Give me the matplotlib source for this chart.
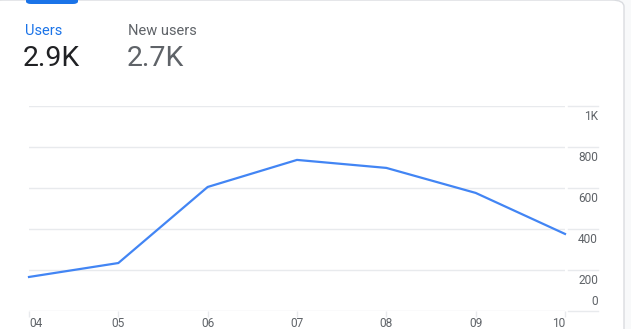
import matplotlib.pyplot as plt
from matplotlib.patches import FancyBboxPatch
from matplotlib.transforms import blended_transform_factory

# chart data
days = ['04', '05', '06', '07', '08', '09', '10']
users = [166, 234, 605, 737, 698, 576, 376]
yTicks = [0, 200, 400, 600, 800, 1000]
yLabels = ['0', '200', '400', '600', '800', '1K']

W, H = 631, 329
fig = plt.figure(figsize=(W / 100, H / 100), dpi=100)
fig.patch.set_facecolor('#f8f9fa')
plt.rcParams['font.family'] = ['Roboto', 'DejaVu Sans']

# card background
card = FancyBboxPatch((-10 / W, -10 / H), 634 / W, 10 / H + 329 / H,
                      boxstyle='round,pad=0,rounding_size=0.02',
                      transform=fig.transFigure, facecolor='white',
                      edgecolor='#dadce0', linewidth=1, zorder=-5)
fig.patches.append(card)
tab = FancyBboxPatch((26 / W, (H - 4) / H), 52 / W, 8 / H,
                     boxstyle='round,pad=0,rounding_size=0.008',
                     transform=fig.transFigure, facecolor='#1a73e8',
                     edgecolor='none', zorder=-4)
fig.patches.append(tab)

# header metrics
fig.text(25 / W, 1 - 31 / H, 'Users', color='#1a73e8', fontsize=10.5, va='center')
fig.text(23 / W, 1 - 59 / H, '2.9K', color='#202124', fontsize=20.5, va='center')
fig.text(128 / W, 1 - 31 / H, 'New users', color='#5f6368', fontsize=10.5, va='center')
fig.text(127 / W, 1 - 59 / H, '2.7K', color='#5f6368', fontsize=20.5, va='center')

left, right, bottom, top = 29, 565, 311, 106
ax = fig.add_axes([left / W, 1 - bottom / H, (right - left) / W, (bottom - top) / H])
ax.set_facecolor('none')
x = list(range(len(days)))
ax.set_xlim(0, len(days) - 1)
ax.set_ylim(0, 1000)

gridColor = '#e8eaed'
tickFs = 8.6
trans = blended_transform_factory(ax.transAxes, ax.transData)
xr = (568 - left) / (right - left)
xr2 = (598 - left) / (right - left)
for val, lab in zip(yTicks, yLabels):
    ax.axhline(val, color=gridColor, lw=1, zorder=1)
    ax.plot([xr, xr2], [val, val], color=gridColor, lw=1, transform=trans, clip_on=False)
    if val == 0:
        ax.annotate(lab, (xr2, val), xycoords=trans, xytext=(0, 2), textcoords='offset points',
                    ha='right', va='bottom', color='#5f6368', fontsize=tickFs)
    else:
        ax.annotate(lab, (xr2, val), xycoords=trans, xytext=(0, -3), textcoords='offset points',
                    ha='right', va='top', color='#5f6368', fontsize=tickFs)

ax.plot(x, users, color='#4285f4', lw=1.6, zorder=3, solid_joinstyle='miter', clip_on=False)

for s in ax.spines.values():
    s.set_visible(False)
ax.set_yticks([])
ax.set_xticks(x)
ax.set_xticklabels(days, color='#5f6368', fontsize=tickFs)
ax.tick_params(axis='x', length=4.5, width=1, color=gridColor, pad=0)
labels = ax.get_xticklabels()
labels[0].set_ha('left')
labels[-1].set_ha('right')

fig.savefig('out.png', dpi=100)
